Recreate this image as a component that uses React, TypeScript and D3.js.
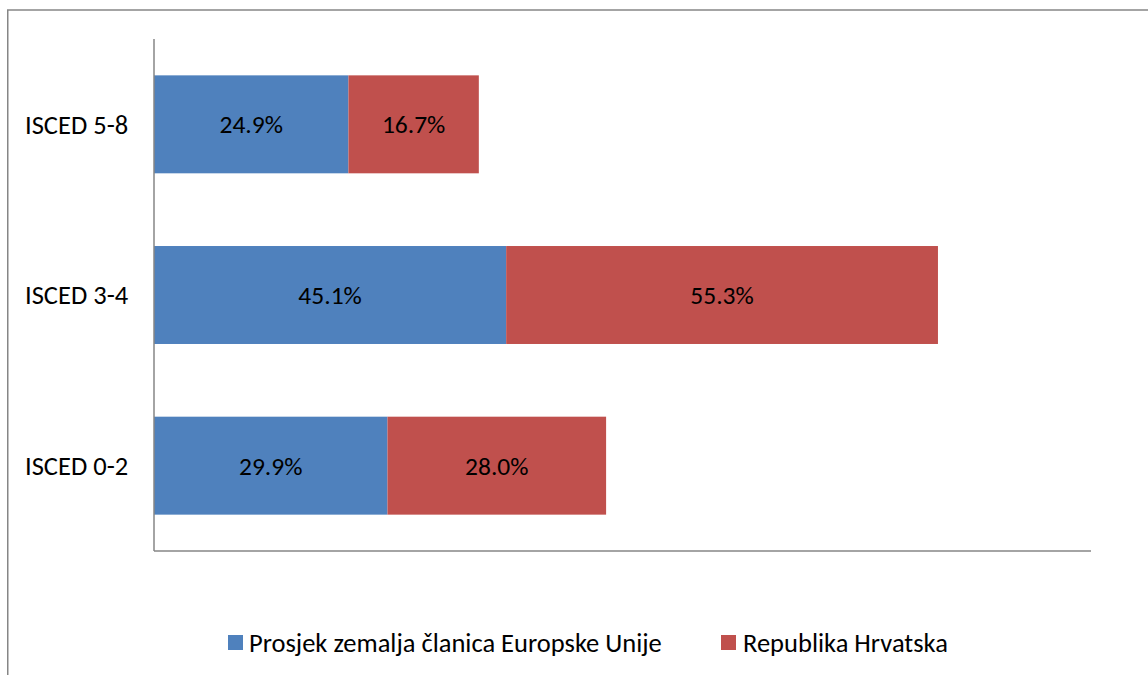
import * as d3 from 'd3';
import React from 'react';

const categories = ['ISCED 5-8', 'ISCED 3-4', 'ISCED 0-2'];
const euValues = [24.9, 45.1, 29.9];
const hrValues = [16.7, 55.3, 28.0];
const seriesNames = ['Prosjek zemalja članica Europske Unije', 'Republika Hrvatska'];
const seriesColors = ['#4F81BD', '#C0504D'];

const FONT = 'Carlito, Calibri, "Open Sans", sans-serif';

const App: React.FC = () => {
  const width = 1148;
  const height = 675;
  const plot = { left: 154, right: 1091, top: 39, bottom: 551 };

  const x = d3.scaleLinear().domain([0, 120]).range([plot.left, plot.right]);
  const y = d3
    .scaleBand<string>()
    .domain(categories)
    .range([plot.top, plot.bottom])
    .paddingInner(0.426)
    .paddingOuter(0.213);

  const rows = categories.map((c, i) => ({ c, vals: [euValues[i], hrValues[i]] }));

  return (
    <svg
      width={width}
      height={height}
      style={{ position: 'absolute', left: 0, top: 0, background: '#fff' }}
    >
      <line x1={7} y1={10} x2={width} y2={10} stroke="#868686" strokeWidth={1.5} />
      <line x1={7.75} y1={10} x2={7.75} y2={height} stroke="#868686" strokeWidth={1.5} />

      {rows.map((r) => {
        const y0 = y(r.c) ?? 0;
        let acc = 0;
        return (
          <g key={r.c}>
            {r.vals.map((v, j) => {
              const x0 = x(acc);
              acc += v;
              const x1 = x(acc);
              return (
                <g key={j}>
                  <rect x={x0} y={y0} width={x1 - x0} height={y.bandwidth()} fill={seriesColors[j]} />
                  <text
                    x={(x0 + x1) / 2}
                    y={y0 + y.bandwidth() / 2}
                    dy="0.35em"
                    textAnchor="middle"
                    fontFamily={FONT}
                    fontSize={25.5}
                    fill="#000"
                  >
                    {v.toFixed(1)}%
                  </text>
                </g>
              );
            })}
            <text
              x={25}
              y={y0 + y.bandwidth() / 2}
              dy="0.35em"
              fontFamily={FONT}
              fontSize={26.5}
              fill="#000"
            >
              {r.c}
            </text>
          </g>
        );
      })}

      <line x1={plot.left} y1={plot.top} x2={plot.left} y2={plot.bottom} stroke="#868686" strokeWidth={1.5} />
      <line x1={plot.left} y1={plot.bottom} x2={plot.right} y2={plot.bottom} stroke="#868686" strokeWidth={1.5} />

      <g fontFamily={FONT} fontSize={26.5} fill="#000">
        <rect x={228} y={635} width={15} height={15} fill={seriesColors[0]} />
        <text x={249} y={642.5} dy="0.35em">{seriesNames[0]}</text>
        <rect x={721} y={635} width={15} height={15} fill={seriesColors[1]} />
        <text x={743} y={642.5} dy="0.35em">{seriesNames[1]}</text>
      </g>
    </svg>
  );
};

export default App;
